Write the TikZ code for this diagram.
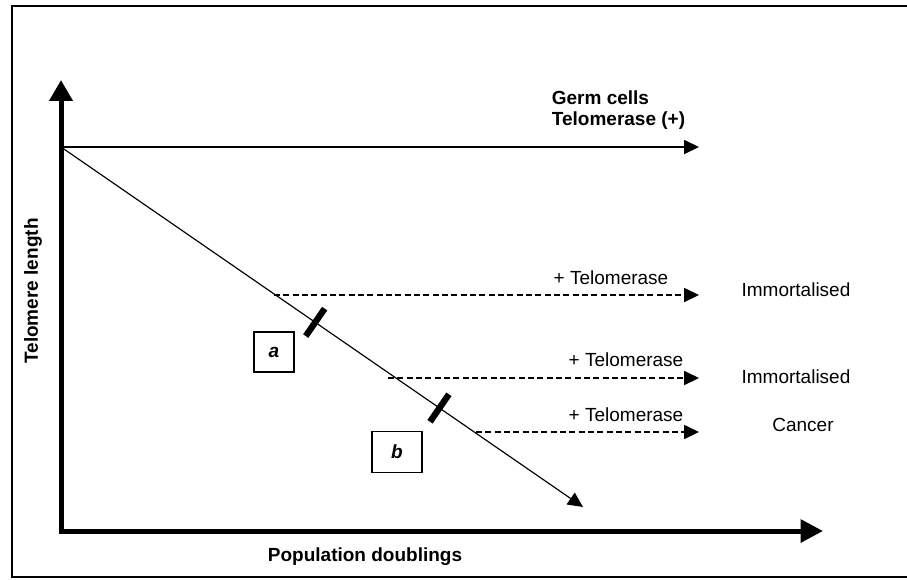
\documentclass[tikz,border=0pt]{standalone}
\usepackage{fontspec}
\setmainfont{Liberation Sans}
\usetikzlibrary{arrows.meta, positioning, calc}

\begin{document}
\begin{tikzpicture}[x=0.6pt, y=-0.6pt,
    font=\fontsize{11.4}{12.6}\selectfont,
    axis/.style={line width=3pt, line cap=rect, {Triangle[length=12.5pt,width=13.5pt]}-{Triangle[length=13.5pt,width=13.5pt]}},
    growth/.style={line width=0.7pt, -{Triangle[length=9pt,width=8.5pt]}},
    rescue/.style={line width=0.7pt, dash pattern=on 3.6pt off 2pt, -{Triangle[length=9pt,width=8.5pt]}},
    crisis/.style={line width=3.8pt},
    stagebox/.style={draw, line width=0.7pt, inner sep=0pt, font=\fontsize{11.4}{12.6}\selectfont\bfseries\itshape}]
    \useasboundingbox (0,0) rectangle (907,579);

    % Frame (open on the right)
    \draw[line width=1.2pt] (907,6) -- (12,6) -- (12,577) -- (907,577);

    % Axes
    \coordinate (O) at (61,531);
    \coordinate (ytop) at (61,80);
    \coordinate (xend) at (823,531);
    \draw[axis] (ytop) -- (O) -- (xend);
    \node[font=\fontsize{11.4}{12.6}\selectfont\bfseries, rotate=90] (ylab) at (33,291) {Telomere length};
    \node[font=\fontsize{11.4}{12.6}\selectfont\bfseries] (xlab) at (365,557) {Population doublings};

    % Germ cells and somatic decline
    \coordinate (S) at (61,147);
    \coordinate (G) at (699,147);
    \coordinate (D) at (583,507);
    \draw[growth] (S) -- (G);
    \draw[growth] (S) -- (D);
    \node[anchor=west, align=left, font=\fontsize{11.4}{12.6}\selectfont\bfseries] (germ) at (546,110) {Germ cells\\Telomerase (+)};

    % Crisis bars and stage boxes
    \path (S) -- (D) coordinate[pos=0.487] (ta) coordinate[pos=0.725] (tb);
    \foreach \t in {ta,tb}
        \draw[crisis] ($(\t)!10pt!90:(D)$) -- ($(\t)!10pt!-90:(D)$);
    \node[stagebox, minimum width=24pt, minimum height=24pt] (a) at (274,352) {a};
    \node[stagebox, minimum width=30pt, minimum height=24.6pt] (b) at (397,452) {b};

    % Telomerase rescue
    \foreach \sx/\yy/\tx/\ty/\fx/\fy/\fate [count=\i] in
        {274/295/611/278/796/290/Immortalised,
         388/378/626/360/796/377/Immortalised,
         476/432/626/415/803/425/Cancer}
    {
        \coordinate (r\i) at (\sx,\yy);
        \coordinate (re\i) at (699,\yy);
        \draw[rescue] (r\i) -- (re\i);
        \node (tel\i) at (\tx,\ty) {+ Telomerase};
        \node (fate\i) at (\fx,\fy) {\fate};
    }
\end{tikzpicture}
\end{document}
